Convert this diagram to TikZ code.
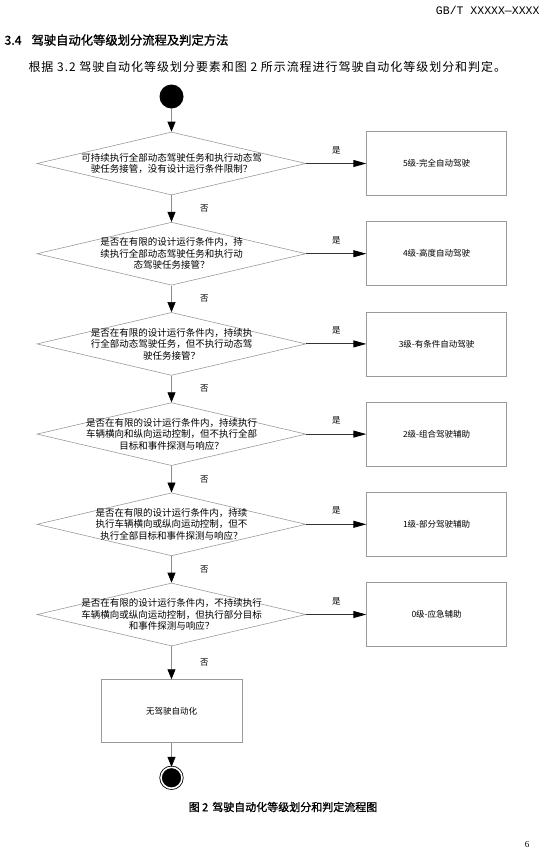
\documentclass[tikz,border=0pt]{standalone}
\usepackage{fontspec}
\setmainfont{Liberation Serif}
\setmonofont{Liberation Mono}
\newfontfamily\cjk[AutoFakeBold=1.2]{Noto Sans CJK SC}
\newfontfamily\cjkpara[LetterSpace=8]{Noto Sans CJK SC}
\usepackage{tikz}
\usetikzlibrary{positioning,shapes.geometric,arrows.meta}
\definecolor{linegray}{HTML}{8C8C8C}
\definecolor{boxgray}{HTML}{9A9A9A}

\begin{document}
\begin{tikzpicture}[
  x=1pt, y=-1pt,
  node distance=26.6pt and 60pt,
  question/.style={diamond,draw=boxgray,line width=0.6pt,aspect=4.2,inner xsep=-30pt,inner ysep=-10pt,
    minimum width=269pt,minimum height=63pt,align=center,
    font=\cjk\fontsize{9.5}{11.5}\selectfont},
  level/.style={draw=boxgray,line width=0.6pt,minimum width=140pt,minimum height=64pt,
    font=\cjk\fontsize{8.5}{10}\selectfont},
  startdot/.style={circle,fill=black,minimum size=24pt,inner sep=0pt},
  enddot/.style={circle,fill=black,draw=black,double=white,double distance=1.6pt,
    line width=0.8pt,minimum size=21pt,inner sep=0pt},
  flow/.style={draw=linegray,line width=0.6pt,-{Triangle[length=10pt,width=8pt,color=black]}},
  yesflow/.style={draw=black!80,line width=0.9pt,-{Triangle[length=13pt,width=7pt,color=black]}},
  nolabel/.style={right=25pt,font=\cjk\fontsize{8.5}{10}\selectfont},
  yeslabel/.style={above=6pt,font=\cjk\fontsize{8.5}{10}\selectfont}
]
\useasboundingbox (0,0) rectangle (550,852);

% page text
\node[anchor=east,font=\ttfamily\fontsize{11.5}{12}\selectfont] (hdr) at (543,10) {GB/T XXXXX—XXXX};
\node[anchor=west,font=\cjk\bfseries\fontsize{12.3}{14}\selectfont] (sec) at (1,40) {3.4\hspace{10pt}驾驶自动化等级划分流程及判定方法};
\node[anchor=west,font=\cjkpara\fontsize{12}{14}\selectfont] (par) at (25,67) {根据 3.2 驾驶自动化等级划分要素和图 2 所示流程进行驾驶自动化等级划分和判定。};

% decisions
\node[question] (q1) at (171.5,163.5) {可持续执行全部动态驾驶任务和执行动态驾\\驶任务接管，没有设计运行条件限制？};
\node[question,below=of q1] (q2) {是否在有限的设计运行条件内，持\\续执行全部动态驾驶任务和执行动\\态驾驶任务接管？};
\node[question,below=of q2] (q3) {是否在有限的设计运行条件内，持续执\\行全部动态驾驶任务，但不执行动态驾\\驶任务接管？};
\node[question,below=of q3] (q4) {是否在有限的设计运行条件内，持续执行\\车辆横向和纵向运动控制，但不执行全部\\目标和事件探测与响应？};
\node[question,below=of q4] (q5) {是否在有限的设计运行条件内，持续\\执行车辆横向或纵向运动控制，但不\\执行全部目标和事件探测与响应？};
\node[question,below=of q5] (q6) {是否在有限的设计运行条件内，不持续执行\\车辆横向或纵向运动控制，但执行部分目标\\和事件探测与响应？};

% levels
\node[level,right=of q1] (l5) {5级-完全自动驾驶};
\node[level,right=of q2] (l4) {4级-高度自动驾驶};
\node[level,right=of q3] (l3) {3级-有条件自动驾驶};
\node[level,right=of q4] (l2) {2级-组合驾驶辅助};
\node[level,right=of q5] (l1) {1级-部分驾驶辅助};
\node[level,right=of q6] (l0) {0级-应急辅助};
\node[level,minimum width=141pt,minimum height=63pt,below=33pt of q6] (none) {无驾驶自动化};

\node[startdot,above=23pt of q1] (start) {};
\node[enddot,below=24pt of none] (stop) {};

% connectors
\draw[flow] (start) -- (q1);
\draw[flow] (q1) -- node[nolabel] (n1) {否} (q2);
\draw[flow] (q2) -- node[nolabel] (n2) {否} (q3);
\draw[flow] (q3) -- node[nolabel] (n3) {否} (q4);
\draw[flow] (q4) -- node[nolabel] (n4) {否} (q5);
\draw[flow] (q5) -- node[nolabel] (n5) {否} (q6);
\draw[flow] (q6) -- node[nolabel] (n6) {否} (none);
\draw[flow] (none) -- (stop);
\draw[yesflow] (q1) -- node[yeslabel] (y1) {是} (l5);
\draw[yesflow] (q2) -- node[yeslabel] (y2) {是} (l4);
\draw[yesflow] (q3) -- node[yeslabel] (y3) {是} (l3);
\draw[yesflow] (q4) -- node[yeslabel] (y4) {是} (l2);
\draw[yesflow] (q5) -- node[yeslabel] (y5) {是} (l1);
\draw[yesflow] (q6) -- node[yeslabel] (y6) {是} (l0);

\node[font=\cjk\bfseries\fontsize{11}{13}\selectfont] (cap) at (283,807) {图 2\hspace{4pt}驾驶自动化等级划分和判定流程图};
\node[font=\fontsize{9}{10}\selectfont] (pg) at (527,845) {6};
\end{tikzpicture}
\end{document}
